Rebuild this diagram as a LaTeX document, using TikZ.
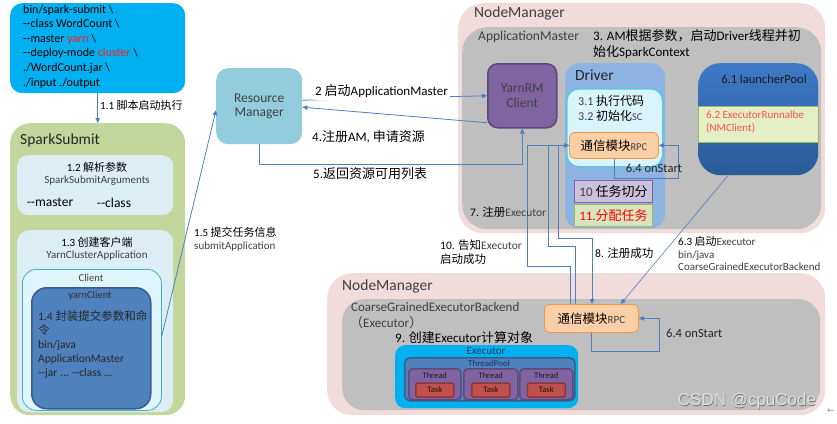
\documentclass[tikz,border=0pt]{standalone}
\usepackage{fontspec}
\setmainfont{Carlito}
\newfontfamily\cjk{Noto Sans CJK SC}
\newfontfamily\wmfont{Liberation Sans}
\newfontfamily\symfont{DejaVu Sans}
\usetikzlibrary{arrows.meta,calc}
\definecolor{cmdblue}{HTML}{00B0F0}
\definecolor{ssgreen}{HTML}{C3D69B}
\definecolor{paleblue}{HTML}{DBEEF4}
\definecolor{clientfill}{HTML}{DDF5FB}
\definecolor{clientedge}{HTML}{4BACC6}
\definecolor{ycblue}{HTML}{4F81BD}
\definecolor{ycedge}{HTML}{385D8A}
\definecolor{rmfill}{HTML}{93CDDD}
\definecolor{nmpink}{HTML}{F2DCDB}
\definecolor{amgray}{HTML}{BFBFBF}
\definecolor{drvblue}{HTML}{8DB3E2}
\definecolor{icfill}{HTML}{DAF4FB}
\definecolor{icedge}{HTML}{5BC8E8}
\definecolor{rpcfill}{HTML}{FBCFA5}
\definecolor{rpcedge}{HTML}{F79646}
\definecolor{purplefill}{HTML}{CCC1DA}
\definecolor{purpleedge}{HTML}{8064A2}
\definecolor{greenfill}{HTML}{D7E4BD}
\definecolor{greenedge}{HTML}{9BBB59}
\definecolor{lpfill}{HTML}{E4EFC6}
\definecolor{lptop}{HTML}{3E7AC6}
\definecolor{lpbot}{HTML}{2A5A98}
\definecolor{yrmpurple}{HTML}{8064A2}
\definecolor{yrmedge}{HTML}{5F497A}
\definecolor{lineblue}{HTML}{4F81BD}
\definecolor{textgray}{HTML}{404040}
\definecolor{redtxt}{HTML}{FF2020}
\definecolor{salmon}{HTML}{FF5050}
\definecolor{threadp}{HTML}{8064A2}
\definecolor{threade}{HTML}{5F497A}
\definecolor{taskr}{HTML}{C0504D}
\definecolor{taske}{HTML}{8C3836}
\definecolor{darkblue}{HTML}{17375E}
\newcommand\zh[1]{{\cjk #1}}
\newcommand\dd{-{}-}
\begin{document}
\begin{tikzpicture}[x=1pt,y=-1pt,
  box/.style={inner sep=0pt, anchor=north west},
  lbl/.style={inner sep=0pt, anchor=west},
  ctr/.style={inner sep=0pt, anchor=center},
  conn/.style={draw=lineblue, line width=0.8pt},
  arr/.style={conn, -{Triangle[length=5pt,width=4.5pt]}},
  f/.style={font=\fontsize{#1}{#1}\selectfont}
]
\useasboundingbox (0,0) rectangle (837,423);
\fill[white] (0,0) rectangle (837,423);

% ---------------- left column ----------------
\node[box, fill=cmdblue, rounded corners=12pt, minimum width=175pt, minimum height=90pt] (cmd) at (10,3) {};
\node[box, align=left, font=\fontsize{12}{14.6}\selectfont] (cmdtxt) at (23,4.5)
 {bin/spark-submit \textbackslash\\
  \dd class WordCount \textbackslash\\
  \dd master {\color{redtxt}yarn} \textbackslash\\
  \dd deploy-mode {\color{redtxt}cluster} \textbackslash\\
  ./WordCount.jar \textbackslash\\
  ./input ./output};

\node[box, fill=ssgreen, rounded corners=20pt, minimum width=175pt, minimum height=292pt] (ss) at (10,123) {};
\node[lbl, f=15.5, text=black!85] (sst) at (20,140) {SparkSubmit};
\node[box, fill=paleblue, rounded corners=11pt, minimum width=156pt, minimum height=60pt] (b12) at (17,155) {};
\node[ctr, f=11] (b12a) at (97,167) {1.2 \zh{解析参数}};
\node[ctr, f=11, text=textgray] (b12b) at (97,181) {SparkSubmitArguments};
\node[ctr, f=13.5] (b12c) at (50,202) {\dd master};
\node[ctr, f=13.5] (b12d) at (114,203) {\dd class};

\node[box, fill=paleblue, rounded corners=12pt, minimum width=156pt, minimum height=182pt] (b13) at (17,230) {};
\node[ctr, f=11] (b13a) at (97,242) {1.3 \zh{创建客户端}};
\node[ctr, f=11, text=textgray] (b13b) at (97,256) {YarnClusterApplication};
\node[box, fill=clientfill, draw=clientedge, line width=0.8pt, rounded corners=14pt, minimum width=139pt, minimum height=141pt] (client) at (22,269) {};
\node[ctr, f=10.5, text=textgray] (clientt) at (91,278) {Client};
\node[box, fill=ycblue, draw=ycedge, line width=1.5pt, rounded corners=15pt, minimum width=119pt, minimum height=121pt] (yc) at (31,287) {};
\node[ctr, f=10.5, text=black!80] (yct) at (90,296) {yarnClient};
\node[box, align=left, font=\fontsize{11.5}{14}\selectfont, text=black!85] (yctxt) at (38,310)
 {1.4 \zh{封装提交参数和命}\\ \zh{令}\\ bin/java\\ ApplicationMaster\\ \dd jar ... \dd class ...};

% ---------------- Resource Manager ----------------
\node[box, fill=rmfill, rounded corners=12pt, minimum width=86pt, minimum height=76pt] (rm) at (216,68) {};
\node[ctr, align=center, font=\fontsize{13.5}{14}\selectfont, text=textgray] (rmt) at (rm.center) {Resource\\Manager};

% ---------------- top NodeManager ----------------
\node[box, fill=nmpink, rounded corners=25pt, minimum width=367pt, minimum height=230pt] (nm1) at (458,3) {};
\node[lbl, f=15.5, text=textgray] (nm1t) at (474,13) {NodeManager};
\node[box, fill=amgray, rounded corners=25pt, minimum width=359pt, minimum height=202pt] (am) at (462,27) {};
\node[lbl, f=13.5, text=textgray] (amt) at (478,37) {ApplicationMaster};
\node[box, align=left, font=\fontsize{13}{16}\selectfont] (amdesc) at (593,29)
 {3. AM\zh{根据参数，启动}Driver\zh{线程并初}\\\zh{始化}SparkContext};

\node[box, fill=yrmpurple, draw=yrmedge, line width=1.5pt, rounded corners=10pt, minimum width=69pt, minimum height=64pt] (yrm) at (487,63) {};
\node[ctr, align=center, font=\fontsize{13.5}{15.5}\selectfont, text=black!75] (yrmt) at (yrm.center) {YarnRM\\Client};

\node[box, fill=drvblue, rounded corners=14pt, minimum width=100pt, minimum height=165pt] (drv) at (565,63) {};
\node[lbl, f=15.5, text=black!85] (drvt) at (575,75) {Driver};
\node[box, fill=icfill, draw=icedge, line width=1.6pt, rounded corners=12pt, minimum width=96pt, minimum height=78pt] (ic) at (566,88) {};
\node[lbl, f=12] (ic1) at (578,101) {{\color{textgray}3.1} \zh{执行代码}};
\node[lbl, f=12] (ic2) at (578,116) {{\color{textgray}3.2} \zh{初始化}{\fontsize{10.5}{11}\selectfont\color{textgray}SC}};
\node[box, fill=rpcfill, draw=rpcedge, line width=0.8pt, rounded corners=5pt, minimum width=89pt, minimum height=26pt] (rpcT) at (569,132) {};
\node[ctr, f=12.5] (rpcTt) at (rpcT.center) {\zh{通信模块}{\fontsize{10.5}{11}\selectfont\color{textgray}RPC}};
\node[box, fill=purplefill, draw=purpleedge, line width=1pt, minimum width=78pt, minimum height=22pt] (b10) at (574,180) {};
\node[ctr, f=13] (b10t) at (b10.center) {{\color{textgray}10} \zh{任务切分}};
\node[box, fill=greenfill, draw=greenedge, line width=1pt, minimum width=78pt, minimum height=22pt] (b11) at (574,204) {};
\node[ctr, f=13, text=red] (b11t) at (b11.center) {11.\zh{分配任务}};

\node[box, draw=none, rounded corners=22pt, top color=lptop, bottom color=lpbot, minimum width=120pt, minimum height=112pt] (lp) at (698,63) {};
\node[ctr, f=12.5, text=black!90] (lpt) at (764,79) {6.1 launcherPool};
\node[box, fill=lpfill, draw=greenedge, line width=0.8pt, minimum width=120pt, minimum height=36pt] (b62) at (698,106) {};
\node[box, align=left, font=\fontsize{11}{13}\selectfont, text=salmon] (b62t) at (706,111) {6.2 ExecutorRunnalbe\\(NMClient)};

% ---------------- bottom NodeManager ----------------
\node[box, fill=nmpink, rounded corners=25pt, minimum width=498pt, minimum height=142pt] (nm2) at (327,273) {};
\node[lbl, f=15.5, text=textgray] (nm2t) at (342,286) {NodeManager};
\node[box, fill=amgray, rounded corners=22pt, minimum width=478pt, minimum height=111pt] (cg) at (342,299) {};
\node[lbl, f=13, text=textgray] (cgt) at (351,307) {CoarseGrainedExecutorBackend};
\node[lbl, f=13, text=textgray] (cgt2) at (350,323) {\zh{（}Executor\zh{）}};
\node[lbl, f=13] (cgt3) at (395,338) {9. \zh{创建}Executor\zh{计算对象}};

\node[box, fill=cmdblue, rounded corners=10pt, minimum width=183pt, minimum height=63pt] (ex) at (395,345) {};
\node[ctr, f=11, text=darkblue] (ext) at (486,351) {Executor};
\node[box, fill=ycblue, draw=ycedge, line width=1.5pt, rounded corners=5pt, minimum width=170pt, minimum height=43pt] (tp) at (404,357) {};
\node[ctr, f=9, text=darkblue] (tpt) at (489,363) {ThreadPool};
\foreach \i/\x/\w in {1/408/52, 2/463/54, 3/519/53}{
  \node[box, fill=threadp, draw=threade, line width=1.5pt, rounded corners=4pt, minimum width=\w pt, minimum height=31pt] (th\i) at (\x,368) {};
  \node[ctr, f=8.5, text=black!70!threade] (th\i t) at ($(th\i.north)+(0,8)$) {Thread};
  \node[ctr, fill=taskr, draw=taske, line width=1.5pt, rounded corners=2pt, minimum width=38pt, minimum height=14pt, f=8.5, text=black!75!taske] (tk\i) at ($(th\i.north)+(0,22)$) {Task};
}

\node[box, fill=rpcfill, draw=rpcedge, line width=0.8pt, rounded corners=5pt, minimum width=94pt, minimum height=28pt] (rpcB) at (544,304) {};
\node[ctr, f=12.5] (rpcBt) at (rpcB.center) {\zh{通信模块}{\fontsize{11}{11}\selectfont\color{textgray}RPC}};

% ---------------- connectors ----------------
\draw[arr] (cmd.south) -- (cmd.south |- ss.north);
\draw[arr] ($(client.east)+(0,-4)$) -- ($(rm.west)+(0,4)$);
\draw[arr] ($(rm.east)+(0,-6)$) -- ($(yrm.west)+(0,0)$);
\draw[arr] ($(yrm.west)+(0,27)$) -- ($(rm.east)+(0,1)$);
\draw[arr] (rm.south) -- ++(0,20) -| (yrm.south);

% loops
\draw[arr] (rpcT.south) -- ++(0,20) -| ($(rpcT.east)+(20,0)$) -- (rpcT.east);
\draw[arr] (rpcB.south) -- ++(0,19) -| ($(rpcB.east)+(21,0)$) -- (rpcB.east);

% 10 / 7 / 8
\draw[arr] ($(rpcB.north west)+(26,0)$) -- ++(0,-38) -| ($(rpcT.west)+(-42,0)$) -- (rpcT.west);
\draw[arr] ($(rpcB.north west)+(31,0)$) -- ++(0,-58) -| ($(rpcT.west)+(-21,0)$) -- (rpcT.west);
\draw[arr] (rpcT.west) -- ++(-11,0) |- ($(rpcB.north west)+(48,-66)$) -- ($(rpcB.north west)+(48,0)$);

% 6.3
\draw[conn, -{Triangle[length=5pt,width=4.5pt]}, line width=0.6pt] ($(lp.south west)!0.25!(lp.south east)$) -- ($(rpcB.north west)!0.81!(rpcB.north east)$);

% ---------------- labels ----------------
\node[lbl, f=11] (l11) at (100,105) {1.1 \zh{脚本启动执行}};
\node[box, align=left, font=\fontsize{11}{13}\selectfont] (l15) at (194,227) {1.5 \zh{提交任务信息}\\{\color{textgray}submitApplication}};
\node[lbl, f=13, fill=white, inner sep=2pt] (l2) at (313,91) {2 \zh{启动}ApplicationMaster};
\node[lbl, f=13] (l4) at (312,137) {4.\zh{注册}AM, \zh{申请资源}};
\node[lbl, f=13] (l5) at (313,174) {5.\zh{返回资源可用列表}};
\node[ctr, f=12.5, text=black!85] (l64a) at (654,168) {6.4 onStart};
\node[lbl, f=12.5, text=black!85] (l64b) at (666,333) {6.4 onStart};
\node[lbl, f=11.5] (l7) at (470,212) {7. \zh{注册}{\color{textgray}Executor}};
\node[box, align=left, font=\fontsize{11.5}{14}\selectfont] (l10) at (440,240) {10. \zh{告知}{\color{textgray}Executor}\\\zh{启动成功}};
\node[lbl, f=11.5] (l8) at (595,253) {8. \zh{注册成功}};
\node[box, align=left, font=\fontsize{11}{12.7}\selectfont] (l63) at (678,236) {6.3 \zh{启动}{\color{textgray}Executor}\\{\color{textgray}bin/java}\\{\color{textgray}CoarseGrainedExecutorBackend}};

% watermark
\node[ctr, f=17, text=black!55] (wm0) at (747.6,401.6) {\wmfont CSDN @cpuCode};
\node[ctr, f=17, text=black!12] (wm) at (747,401) {\wmfont CSDN @cpuCode};
\node[ctr, f=9, text=black!45] (wmarr) at (831,411) {\symfont ←};
\end{tikzpicture}
\end{document}
